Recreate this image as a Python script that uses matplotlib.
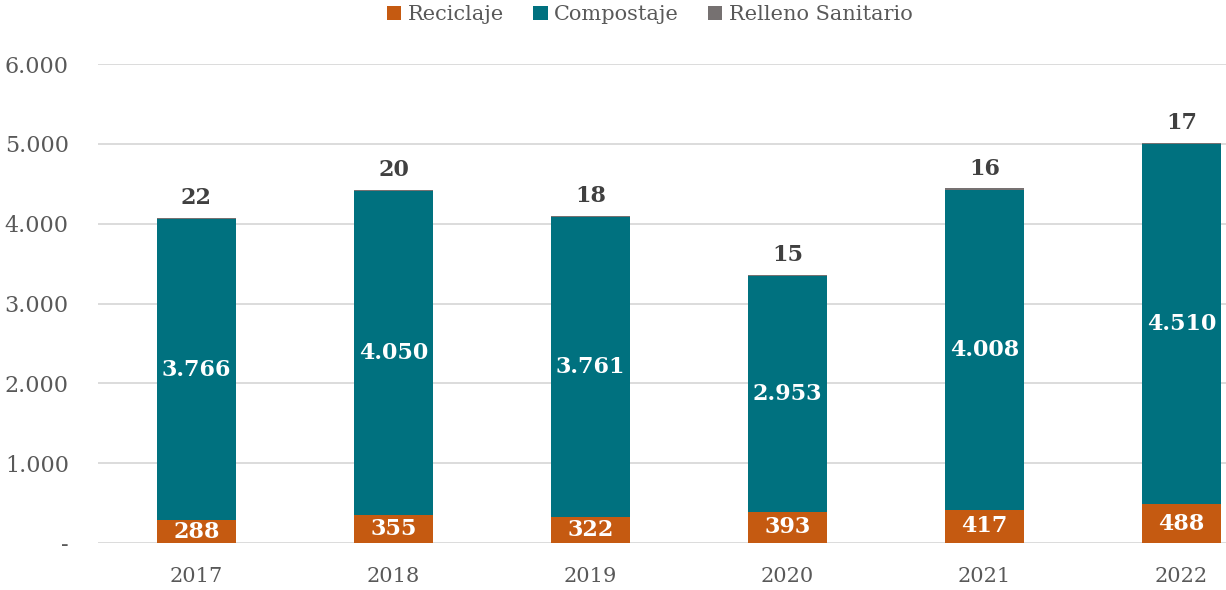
import numpy as np
import matplotlib
matplotlib.use("Agg")
import matplotlib.pyplot as plt

years = ["2017", "2018", "2019", "2020", "2021", "2022"]
reciclaje = [288, 355, 322, 393, 417, 488]
compostaje = [3766, 4050, 3761, 2953, 4008, 4510]
relleno = [22, 20, 18, 15, 16, 17]

C_REC = "#C55A11"
C_COM = "#00717F"
C_REL = "#767171"
TXT = "#595959"

plt.rcParams["font.family"] = ["DejaVu Serif"]


def fmt(v):
    return f"{v:,}".replace(",", ".")


fig = plt.figure(figsize=(12.26, 5.90), dpi=100)
ax = fig.add_axes([98 / 1226, 1 - 543 / 590, 1128 / 1226, (543 - 64) / 590])

x = np.arange(len(years))
w = 0.4
rec = np.array(reciclaje)
com = np.array(compostaje)
rel = np.array(relleno)

ax.bar(x, rec, w, color=C_REC, label="Reciclaje", zorder=3)
ax.bar(x, com, w, bottom=rec, color=C_COM, label="Compostaje", zorder=3)
ax.bar(x, rel, w, bottom=rec + com, color=C_REL, label="Relleno Sanitario", zorder=3)

for i in range(len(years)):
    ax.text(x[i], rec[i] / 2, fmt(rec[i]), ha="center", va="center",
            color="white", fontsize=16, fontweight="bold", zorder=4)
    ax.text(x[i], rec[i] + com[i] / 2, fmt(com[i]), ha="center", va="center",
            color="white", fontsize=16, fontweight="bold", zorder=4)
    ax.text(x[i], rec[i] + com[i] + rel[i] + 110, fmt(rel[i]), ha="center", va="bottom",
            color="#404040", fontsize=16, fontweight="bold", zorder=4)

ax.set_ylim(0, 6000)
ax.set_xlim(-0.5, 5.226)
ax.set_yticks(np.arange(0, 6001, 1000))
ax.set_yticklabels(["-"] + [fmt(v) for v in range(1000, 6001, 1000)])
ax.set_xticks(x)
ax.set_xticklabels(years)
ax.tick_params(axis="y", length=0, pad=21, labelsize=16, labelcolor=TXT)
ax.tick_params(axis="x", length=0, pad=17, labelsize=15, labelcolor=TXT)
ax.grid(axis="y", color="#D9D9D9", linewidth=1.3, zorder=0)
for s in ax.spines.values():
    s.set_visible(False)

ax.legend(loc="center", bbox_to_anchor=(0.489, 1.103), ncol=3, frameon=False,
          fontsize=15, handlelength=0.7, handleheight=0.7, handletextpad=0.3,
          columnspacing=1.4, labelcolor=TXT)

fig.savefig("out.png", dpi=100)
